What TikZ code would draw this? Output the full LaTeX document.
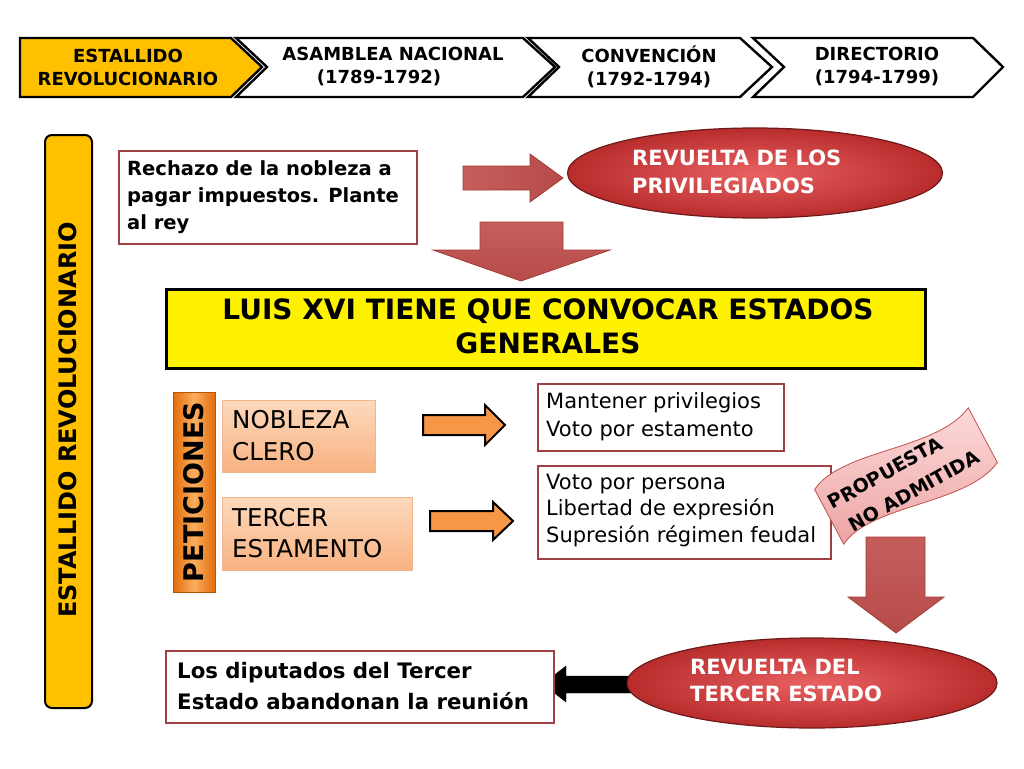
\documentclass[tikz,border=0pt]{standalone}
\usepackage{fontspec}
\setmainfont{DejaVu Sans}
\usetikzlibrary{shapes.geometric}
\definecolor{chevyel}{HTML}{FFC000}
\definecolor{boxred}{HTML}{9E3F44}
\definecolor{arrred}{HTML}{C0504D}
\definecolor{arrredd}{HTML}{A33A37}
\definecolor{ellred}{HTML}{E54545}
\definecolor{ellredd}{HTML}{B82C2C}
\definecolor{ellline}{HTML}{6E1A1A}
\definecolor{peachA}{HTML}{FDD9BC}
\definecolor{peachB}{HTML}{F8B282}
\definecolor{peachline}{HTML}{F2B48A}
\definecolor{orgA}{HTML}{E36C0A}
\definecolor{orgB}{HTML}{FAAE5E}
\definecolor{orgarrow}{HTML}{F79646}
\definecolor{pinkA}{HTML}{FBDADA}
\definecolor{pinkB}{HTML}{EEA4A4}
\tikzset{
  chev/.style={draw=black, line width=2.4pt, line join=miter},
  redbox/.style={draw=boxred, line width=1.6pt, fill=white},
  redarrow/.style={draw=arrredd, line width=0.8pt, left color=arrred!92!white, right color=arrred!95!black},
  redarrowv/.style={draw=arrredd, line width=0.8pt, top color=arrred!92!white, bottom color=arrred!95!black},
  orgarr/.style={draw=black, line width=2pt, fill=orgarrow},
  peach/.style={draw=peachline, line width=0.6pt, top color=peachA, bottom color=peachB},
  ell/.style={ellipse, draw=ellline, line width=1.2pt, inner color=ellred!85!white, outer color=ellredd},
  txt/.style={inner sep=0pt, align=left, anchor=west},
}
\newcommand{\fs}[2]{\fontsize{#1}{#2}\selectfont}
\begin{document}
\begin{tikzpicture}[x=1pt,y=-1pt]
\useasboundingbox (0,0) rectangle (1024,768);
\fill[white] (0,0) rectangle (1024,768);

% ---- top chevrons ----
\draw[chev, fill=chevyel] (20,38) -- (231,38) -- (262,67) -- (231,97) -- (20,97) -- cycle;
\draw[chev, fill=white] (236,38) -- (523,38) -- (555,67) -- (523,97) -- (236,97) -- (267,67) -- cycle;
\draw[chev, fill=white] (528,38) -- (740,38) -- (772,67) -- (740,97) -- (528,97) -- (559,67) -- cycle;
\draw[chev, fill=white] (753,38) -- (973,38) -- (1003,67) -- (973,97) -- (753,97) -- (784,67) -- cycle;
\node[inner sep=0pt, align=center, font=\fs{18}{23}\bfseries] (c1) at (128,67) {ESTALLIDO\\REVOLUCIONARIO};
\node[inner sep=0pt, align=center, font=\fs{18}{23}\bfseries] (c2) at (393,67) {ASAMBLEA NACIONAL\\\hspace*{-28pt}(1789-1792)};
\node[inner sep=0pt, align=center, font=\fs{18}{23}\bfseries] (c3) at (649,67) {CONVENCIÓN\\(1792-1794)};
\node[inner sep=0pt, align=center, font=\fs{18}{23}\bfseries] (c4) at (877,67) {DIRECTORIO\\(1794-1799)};

% ---- left vertical bar ----
\draw[fill=chevyel, draw=black, line width=2pt, rounded corners=7pt] (45,135) rectangle (92,708);
\node[inner sep=0pt, rotate=90, font=\fs{24}{28}\bfseries] (side) at (68,420) {ESTALLIDO REVOLUCIONARIO};

% ---- rechazo box ----
\node[redbox, anchor=north west, minimum width=298pt, minimum height=93pt] (rech) at (118,150) {};
\node[txt, font=\fs{19.5}{27}\bfseries] (recht) at (127,197) {Rechazo de la nobleza a\\pagar impuestos. Plante\\al rey};

% red arrow right
\draw[redarrow] (463,166) -- (530,166) -- (530,154) -- (563,178) -- (530,202) -- (530,190) -- (463,190) -- cycle;

% ellipse 1
\node[ell, minimum width=375pt, minimum height=90pt] (e1) at (755,173) {};
\node[txt, text=white, font=\fs{21}{28}\bfseries] (e1t) at (632,172) {REVUELTA DE LOS\\PRIVILEGIADOS};

% down arrow big
\draw[redarrowv] (480,222) -- (563,222) -- (563,250) -- (610,250) -- (521,281) -- (433,250) -- (480,250) -- cycle;

% ---- yellow box ----
\node[draw=black, line width=2.5pt, fill=yellow, anchor=north west, minimum width=759pt, minimum height=79pt] (yel) at (165,288) {};
\node[inner sep=0pt, align=center, font=\fs{28}{34}\bfseries] (yelt) at (548,326) {LUIS XVI TIENE QUE CONVOCAR ESTADOS\\GENERALES};

% ---- peticiones ----
\draw[draw=orgA!80!black, line width=0.5pt, left color=orgA, right color=orgA, middle color=orgB] (173,392) rectangle (215,592);
\node[inner sep=0pt, rotate=90, font=\fs{27}{30}\bfseries] (pet) at (194,492) {PETICIONES};

\node[peach, anchor=north west, minimum width=153pt, minimum height=72pt] (nob) at (222,400) {};
\node[txt, font=\fs{24.5}{32}] (nobt) at (232,436) {NOBLEZA\\CLERO};
\node[peach, anchor=north west, minimum width=190pt, minimum height=73pt] (ter) at (222,497) {};
\node[txt, font=\fs{24.5}{31}] (tert) at (232,533.5) {TERCER\\ESTAMENTO};

% orange arrows
\draw[orgarr] (423,415) -- (485,415) -- (485,405) -- (505,425) -- (485,445) -- (485,435) -- (423,435) -- cycle;
\draw[orgarr] (430,511) -- (493,511) -- (493,502) -- (513,521) -- (493,540) -- (493,531) -- (430,531) -- cycle;

% right boxes
\node[redbox, anchor=north west, minimum width=246pt, minimum height=67pt] (mant) at (537,383) {};
\node[txt, font=\fs{21}{28}] (mantt) at (546,417) {Mantener privilegios\\Voto por estamento};
\node[redbox, anchor=north west, minimum width=293pt, minimum height=93pt] (voto) at (537,465) {};
\node[txt, font=\fs{21}{26.5}] (votot) at (546,510.5) {Voto por persona\\Libertad de expresión\\Supresión régimen feudal};

% flag
\begin{scope}[shift={(906,476)}, rotate=28]
\draw[draw=arrred, line width=0.8pt, top color=pinkA, bottom color=pinkB]
  (-87,-31) .. controls (-45,-54) and (40,-8) .. (87,-31)
  -- (87,31) .. controls (40,54) and (-45,8) .. (-87,31) -- cycle;
\end{scope}
\node[inner sep=0pt, rotate=29, font=\fs{19}{22}\bfseries] (flag1) at (885,473) {PROPUESTA};
\node[inner sep=0pt, rotate=29, font=\fs{19}{22}\bfseries] (flag2) at (914,491) {NO ADMITIDA};

% down arrow 2
\draw[redarrowv] (866,537) -- (925,537) -- (925,597) -- (944,597) -- (896,633) -- (848,597) -- (866,597) -- cycle;

% black arrow
\draw[fill=black, draw=black] (640,676) -- (566,676) -- (566,666) -- (543,684) -- (566,702) -- (566,693) -- (640,693) -- cycle;

% ellipse 2
\node[ell, minimum width=370pt, minimum height=90pt] (e2) at (812,683) {};
\node[txt, text=white, font=\fs{21}{27}\bfseries] (e2t) at (690,680.5) {REVUELTA DEL\\TERCER ESTADO};

% bottom box
\node[redbox, anchor=north west, minimum width=388pt, minimum height=72pt] (dip) at (165,650) {};
\node[txt, font=\fs{21.3}{31}\bfseries] (dipt) at (177,686.5) {Los diputados del Tercer\\Estado abandonan la reunión};
\end{tikzpicture}
\end{document}
